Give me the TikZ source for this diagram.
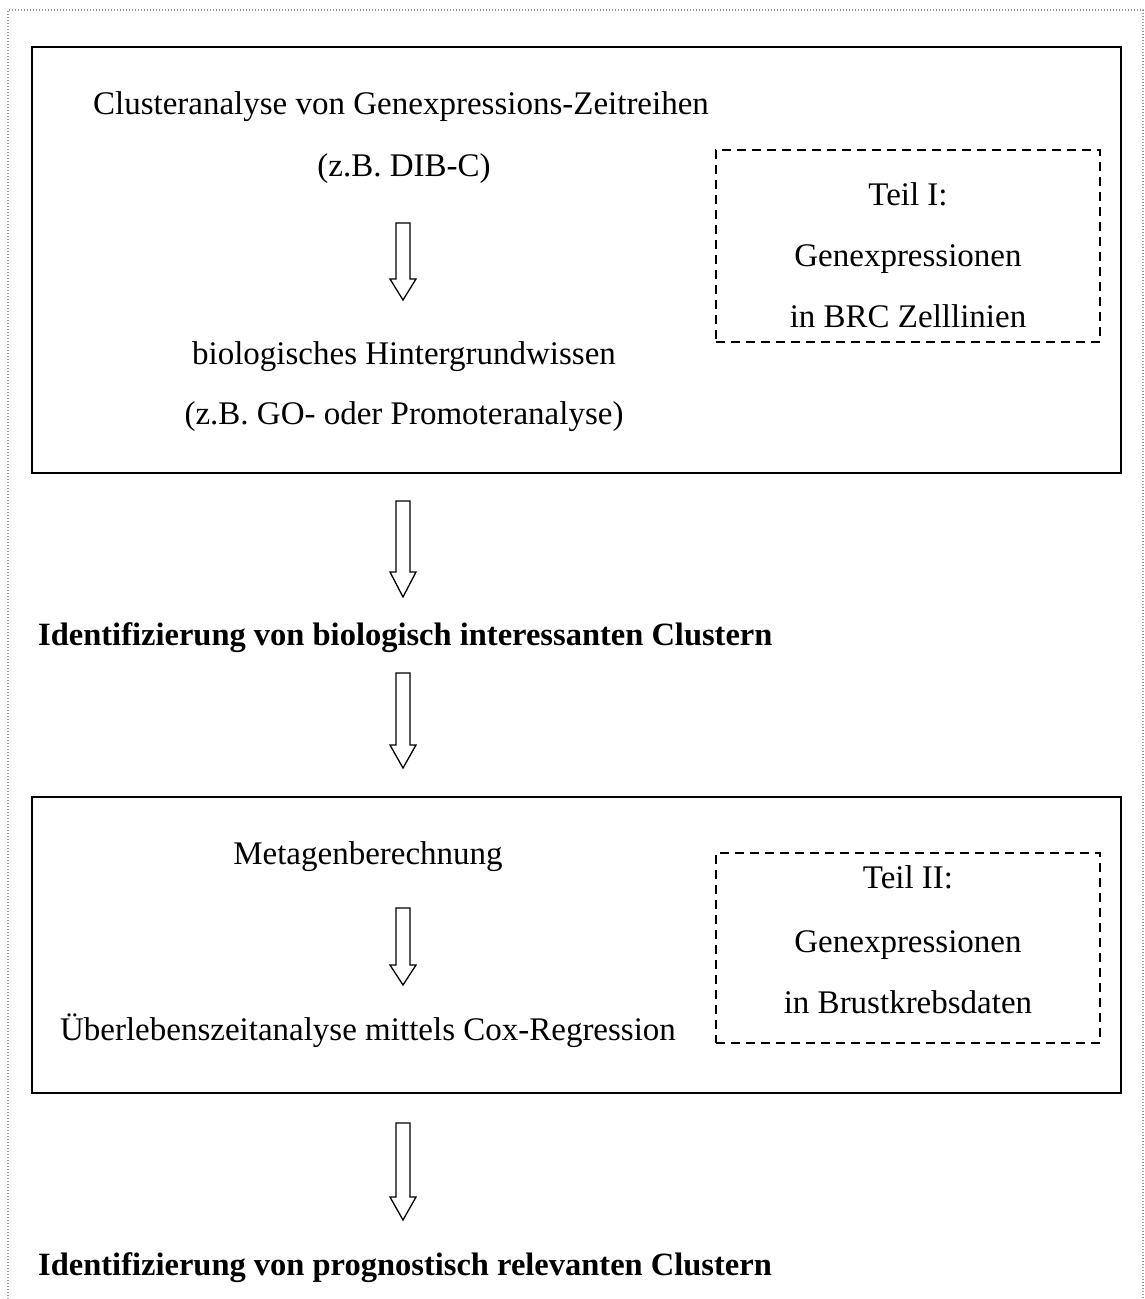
\documentclass[tikz,border=0pt]{standalone}
\usepackage{fontspec}
\setmainfont{Liberation Serif}
\begin{document}
\begin{tikzpicture}[x=1pt,y=-1pt,
  txt/.style={font=\fontsize{33}{40}\selectfont, inner sep=0pt, anchor=base},
  boldtxt/.style={font=\fontsize{32.5}{40}\selectfont\bfseries, inner sep=0pt, anchor=base west},
  panel/.style={draw=black, line width=1.6pt, inner sep=0pt},
  subpanel/.style={draw=black, line width=1.4pt, dash pattern=on 9pt off 6pt, inner sep=0pt},
  frame/.style={draw=gray!80, line width=1.2pt, dash pattern=on 1.2pt off 1.8pt},
  blockarrow/.style={draw=black, line width=1.3pt, fill=white, line join=miter}
]
\useasboundingbox (0,0) rectangle (1145,1299);

% dotted page frame, open at the bottom
\draw[frame] (8,1299) -- (8,10) -- (1143,10) -- (1143,1299);

% hollow block arrow: \blockarrow{x}{top}{head start}{tip}
\newcommand{\blockarrow}[4]{%
  \draw[blockarrow] (#1-7,#2) -- (#1+7,#2) -- (#1+7,#3) -- (#1+13,#3) --
    (#1,#4) -- (#1-13,#3) -- (#1-7,#3) -- cycle;}

% part I
\node[panel, minimum width=1089pt, minimum height=426pt] (p1) at (576.5,260) {};
\node[subpanel, minimum width=384pt, minimum height=192pt] (s1) at (908,246) {};
\node[txt] (c1) at (401,114) {Clusteranalyse von Genexpressions-Zeitreihen};
\node[txt] (c2) at (404,176) {(z.B. DIB-C)};
\node[txt] (b1) at (404,364) {biologisches Hintergrundwissen};
\node[txt] (b2) at (404,424) {(z.B. GO- oder Promoteranalyse)};
\node[txt] (t1) at (908,205) {Teil I:};
\node[txt] (t2) at (908,266) {Genexpressionen};
\node[txt] (t3) at (908,327) {in BRC Zelllinien};
\blockarrow{403}{223}{279}{300}

% between the parts
\blockarrow{403}{501}{572}{597}
\node[boldtxt] (id1) at (38,645) {Identifizierung von biologisch interessanten Clustern};
\blockarrow{403}{673}{745}{768}

% part II
\node[panel, minimum width=1089pt, minimum height=296pt] (p2) at (576.5,945) {};
\node[subpanel, minimum width=384pt, minimum height=190pt] (s2) at (908,948) {};
\node[txt] (m1) at (368,864) {Metagenberechnung};
\node[txt] (m2) at (368,1040) {Überlebenszeitanalyse mittels Cox-Regression};
\node[txt] (u1) at (908,888) {Teil II:};
\node[txt] (u2) at (908,952) {Genexpressionen};
\node[txt] (u3) at (908,1013) {in Brustkrebsdaten};
\blockarrow{403}{908}{965}{985}

% result
\blockarrow{403}{1123}{1197}{1220}
\node[boldtxt] (id2) at (38,1275) {Identifizierung von prognostisch relevanten Clustern};
\end{tikzpicture}
\end{document}
